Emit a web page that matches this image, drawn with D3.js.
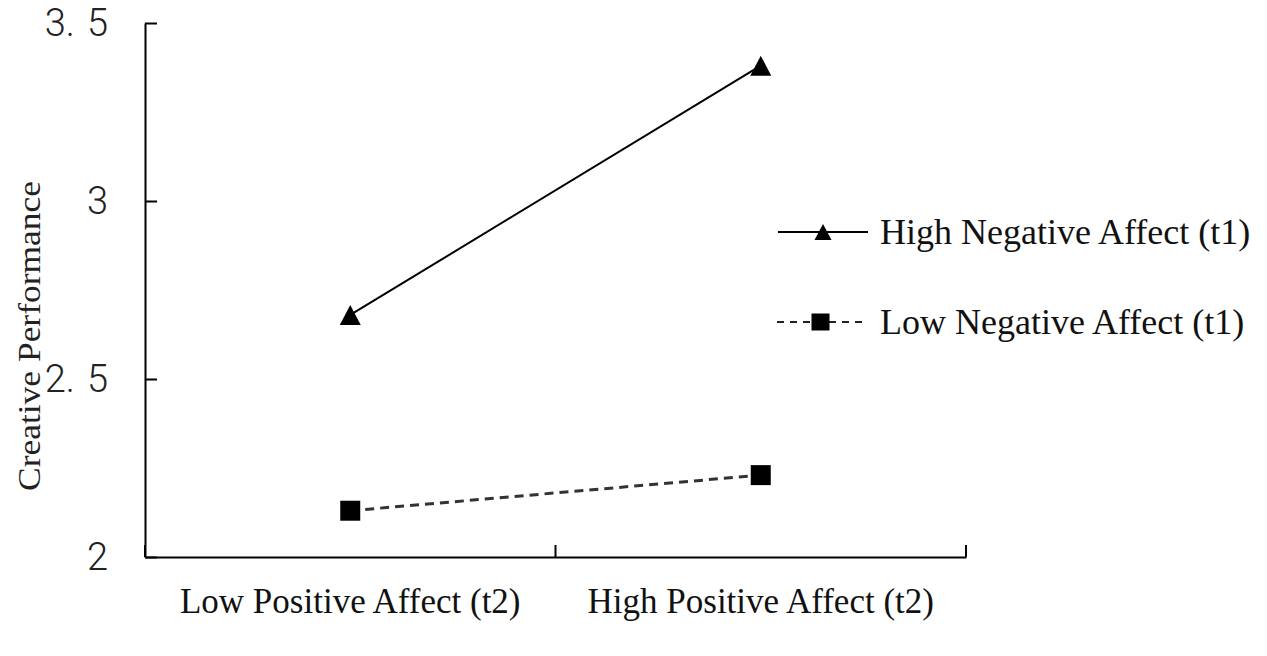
<!DOCTYPE html>
<html>
<head>
<meta charset="utf-8">
<script src="https://cdn.jsdelivr.net/npm/d3@7"></script>
<style>
  html, body { margin: 0; padding: 0; background: #fff; }
  svg { display: block; }
</style>
</head>
<body>
<svg id="chart" width="1267" height="656"></svg>
<script>
// ---- data ----
const categories = ["Low Positive Affect (t2)", "High Positive Affect (t2)"];
const seriesNames = ["High Negative Affect (t1)", "Low Negative Affect (t1)"];
const highNegative = [2.68, 3.38];
const lowNegative = [2.13, 2.23];
const yTicks = [2, 2.5, 3, 3.5];
const yTickLabels = ["2", "2.5", "3", "3.5"];
const yTitle = "Creative Performance";

(function () {
// ---- layout ----
const svg = d3.select("#chart");
const plotL = 145, plotR = 966, plotT = 23, plotB = 557;

const x = d3.scaleBand().domain(categories).range([plotL, plotR]).padding(0);
const y = d3.scaleLinear().domain([2, 3.5]).range([plotB, plotT]);

function triangleType(w, h) {
  return {
    draw(ctx) {
      ctx.moveTo(0, -h / 2);
      ctx.lineTo(w / 2, h / 2);
      ctx.lineTo(-w / 2, h / 2);
      ctx.closePath();
    }
  };
}
function squareType(w, h) {
  return {
    draw(ctx) {
      ctx.rect(-w / 2, -h / 2, w, h);
    }
  };
}

// ---- y axis ----
const yAxis = d3.axisLeft(y)
  .tickValues(yTicks)
  .tickFormat((d, i) => yTickLabels[i])
  .tickSizeInner(-12)
  .tickSizeOuter(0)
  .tickPadding(37);
const gy = svg.append("g").attr("transform", `translate(${plotL},0)`).call(yAxis);
gy.select(".domain").attr("stroke", "#000").attr("stroke-width", 2);
gy.selectAll(".tick line").attr("stroke", "#000").attr("stroke-width", 2);
gy.selectAll(".tick text")
  .attr("fill", "#222")
  .style("font-family", "Roboto, 'DejaVu Sans', sans-serif")
  .style("font-weight", 300)
  .style("font-size", "38px")
  .each(function (d, i) {
    const t = d3.select(this);
    const label = yTickLabels[i];
    const dot = label.indexOf(".");
    if (dot >= 0) {
      t.text(null);
      t.append("tspan").text(label.slice(0, dot + 1));
      t.append("tspan").attr("dx", 12).text(label.slice(dot + 1));
    }
  });

// ---- x axis ----
const xAxis = d3.axisBottom(x).tickSize(0).tickPadding(31);
const gx = svg.append("g").attr("transform", `translate(0,${plotB})`).call(xAxis);
gx.select(".domain").attr("stroke", "#000").attr("stroke-width", 2);
gx.selectAll(".tick text")
  .attr("fill", "#111")
  .style("font-family", "'Liberation Serif', 'Times New Roman', serif")
  .style("font-size", "35px");
const boundaries = [x(categories[0]), x(categories[1]), x(categories[1]) + x.bandwidth()];
gx.selectAll(".btick").data(boundaries).enter().append("line")
  .attr("class", "btick")
  .attr("x1", d => d).attr("x2", d => d)
  .attr("y1", 0).attr("y2", -12)
  .attr("stroke", "#000").attr("stroke-width", 2);

// ---- y title ----
svg.append("text")
  .attr("transform", `translate(40,${(plotT + plotB) / 2 + 46}) rotate(-90)`)
  .attr("text-anchor", "middle")
  .attr("fill", "#222")
  .attr("textLength", 310)
  .attr("lengthAdjust", "spacingAndGlyphs")
  .style("font-family", "'Liberation Serif', 'Times New Roman', serif")
  .style("font-size", "32px")
  .text(yTitle);

// ---- series ----
const cx = d => x(d) + x.bandwidth() / 2;
const line = d3.line().x(d => cx(d.c)).y(d => y(d.v));

const hiData = categories.map((c, i) => ({ c, v: highNegative[i] }));
const loData = categories.map((c, i) => ({ c, v: lowNegative[i] }));

svg.append("path").datum(hiData)
  .attr("d", line).attr("fill", "none")
  .attr("stroke", "#000").attr("stroke-width", 2);
svg.append("path").datum(loData)
  .attr("d", line).attr("fill", "none")
  .attr("stroke", "#333").attr("stroke-width", 3)
  .attr("stroke-dasharray", "9 6");

svg.selectAll(".tri").data(hiData).enter().append("path")
  .attr("class", "tri")
  .attr("d", d3.symbol().type(triangleType(21, 20)))
  .attr("transform", d => `translate(${cx(d.c)},${y(d.v)})`)
  .attr("fill", "#000");
svg.selectAll(".sq").data(loData).enter().append("path")
  .attr("class", "sq")
  .attr("d", d3.symbol().type(squareType(20, 20)))
  .attr("transform", d => `translate(${cx(d.c)},${y(d.v)})`)
  .attr("fill", "#000");

// ---- legend ----
const legend = svg.append("g");
const legItems = [
  { name: seriesNames[0], y: 232, dash: null, sym: triangleType(17, 16), x1: 778, x2: 868, color: "#000", width: 2 },
  { name: seriesNames[1], y: 322, dash: "7 6", sym: squareType(18, 17), x1: 777, x2: 864, color: "#222", width: 2 }
];
legItems.forEach(it => {
  legend.append("line")
    .attr("x1", it.x1).attr("x2", it.x2)
    .attr("y1", it.y).attr("y2", it.y)
    .attr("stroke", it.color).attr("stroke-width", it.width)
    .attr("stroke-dasharray", it.dash);
  legend.append("path")
    .attr("d", d3.symbol().type(it.sym))
    .attr("transform", `translate(${(it.x1 + it.x2) / 2},${it.y})`)
    .attr("fill", "#000");
  legend.append("text")
    .attr("x", 880).attr("y", it.y + 12)
    .attr("fill", "#111")
    .style("font-family", "'Liberation Serif', 'Times New Roman', serif")
    .style("font-size", "36px")
    .text(it.name);
});
})();
</script>
</body>
</html>
